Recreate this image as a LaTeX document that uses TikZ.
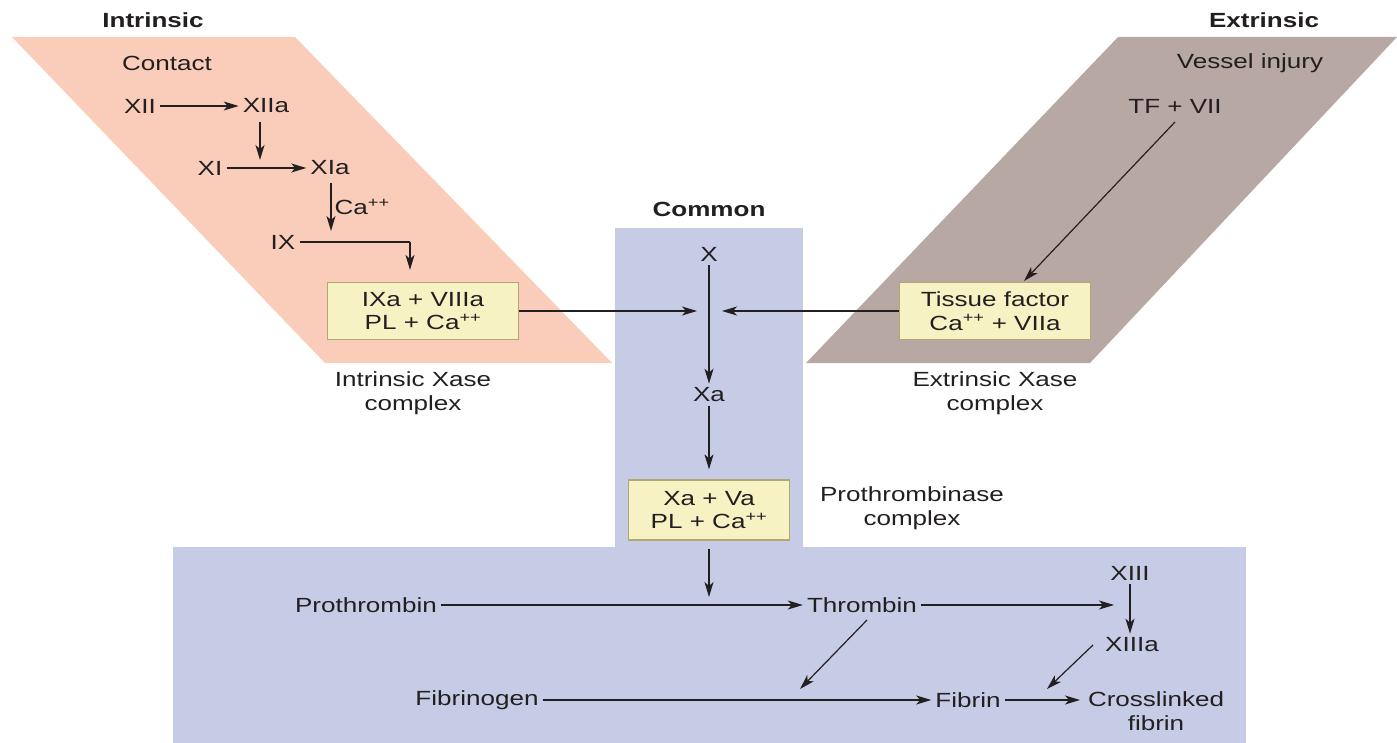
\documentclass[tikz,border=0pt]{standalone}
\usepackage{fontspec}
\setmainfont{Liberation Sans}[FakeStretch=1.27]
\usetikzlibrary{arrows.meta}
\definecolor{peach}{RGB}{249,205,186}
\definecolor{taupe}{RGB}{184,168,164}
\definecolor{cblue}{RGB}{198,203,230}
\definecolor{boxfill}{RGB}{246,242,196}
\definecolor{boxline}{RGB}{176,168,110}
\definecolor{ink}{RGB}{35,31,32}
\tikzset{
  lbl/.style={text=ink, font=\fontsize{20.5}{23.5}\selectfont, inner sep=4pt, align=center},
  ttl/.style={text=ink, font=\fontsize{20.5}{23.5}\selectfont\bfseries, inner sep=2pt},
  cbox/.style={lbl, draw=boxline, fill=boxfill, line width=1.2pt, minimum width=191pt, minimum height=57pt, inner sep=2pt},
  arr/.style={draw=ink, line width=1.2pt, -{Stealth[length=15pt,width=9pt,inset=4pt]}},
  ln/.style={draw=ink, line width=1.2pt},
}
\begin{document}
\begin{tikzpicture}[x=1pt,y=-1pt]
\useasboundingbox (0,0) rectangle (1397,743);
% background regions
\fill[peach] (12,37) -- (295,37) -- (612,363) -- (325,363) -- cycle;
\fill[taupe] (1118,37) -- (1397,37) -- (1090,363) -- (806,363) -- cycle;
\fill[cblue] (615,228) rectangle (803,548);
\fill[cblue] (173,547) rectangle (1246,743);

% titles
\node[ttl] (tint) at (153,20) {Intrinsic};
\node[ttl] (text) at (1264,20) {Extrinsic};
\node[ttl] (tcom) at (709,209) {Common};
\node[lbl] (contact) at (167,63) {Contact};
\node[lbl] (vessel) at (1250,63) {Vessel injury};

% intrinsic
\node[lbl] (xii) at (140,106) {XII};
\node[lbl] (xiia) at (266,106) {XIIa};
\node[lbl] (xi) at (210,168) {XI};
\node[lbl] (xia) at (330,168) {XIa};
\node[lbl] (ix) at (283,242) {IX};
\node[cbox] (ibox) at (423,311) {IXa + VIIIa\\PL + Ca\textsuperscript{++}};
\node[lbl] (ixase) at (413,393) {Intrinsic Xase\\complex};

\draw[arr] (xii) -- (xiia);
\draw[arr] (xi) -- (xia);
\coordinate (xiid) at (260,122);
\coordinate (xiie) at (260,160);
\draw[arr] (xiid) -- (xiie);
\coordinate (xiad) at (331,183);
\coordinate (xiae) at (331,231);
\draw[arr] (xiad) -- node[lbl, right, inner sep=3pt] (ca) {Ca\textsuperscript{++}} (xiae);
\coordinate (ixc) at (410,242);
\draw[ln] (ix.east) -- (ixc);
\draw[arr] (ixc) -- (ibox.north -| ixc) [shorten >=12pt];

% extrinsic
\node[lbl] (tf) at (1175,106) {TF + VII};
\node[cbox] (ebox) at (995,311) {Tissue factor\\Ca\textsuperscript{++} + VIIa};
\node[lbl] (exase) at (995,393) {Extrinsic Xase\\complex};
\coordinate (tfs) at (1175,122);
\coordinate (tfe) at (1024,281);
\draw[arr] (tfs) -- (tfe);

% common
\node[lbl] (x) at (709,254) {X};
\node[lbl] (xa) at (709,395) {Xa};
\node[cbox, minimum width=161pt, minimum height=60pt] (pbox) at (709,510) {Xa + Va\\PL + Ca\textsuperscript{++}};
\node[lbl] (pcx) at (912,508) {Prothrombinase\\complex};
\coordinate (xin) at (697,311);
\coordinate (xex) at (722,311);
\draw[arr] (ibox.east) -- (xin);
\draw[arr] (ebox.west) -- (xex);
\draw[arr] (x) -- (xa);
\draw[arr] (xa) -- (pbox.north) [shorten >=10pt];

% bottom
\node[lbl] (proth) at (366,605) {Prothrombin};
\node[lbl] (thr) at (862,605) {Thrombin};
\node[lbl] (xiii) at (1130,573) {XIII};
\node[lbl] (xiiia) at (1132,645) {XIIIa};
\node[lbl] (fbg) at (477,700) {Fibrinogen};
\node[lbl] (fib) at (968,700) {Fibrin};
\node[lbl, align=center] (cfib) at (1156,711) {Crosslinked\\fibrin};
\coordinate (pe) at (709,597);
\draw[arr] (pbox.south) ++(0,8) coordinate (ps) (ps) -- (pe);
\draw[arr] (proth) -- (thr);
\coordinate (thx) at (1114,605);
\draw[arr] (thr) -- (thx);
\draw[arr] (xiii.south) -- (xiii.south |- xiiia.north);
\coordinate (ths) at (867,620);
\coordinate (the) at (800,689);
\draw[arr] (ths) -- (the);
\coordinate (xas) at (1093,645);
\coordinate (xae) at (1047,689);
\draw[arr] (xas) -- (xae);
\draw[arr] (fbg) -- (fib);
\coordinate (cfw) at (1080,700);
\draw[arr] (fib) -- (cfw);
\end{tikzpicture}
\end{document}
